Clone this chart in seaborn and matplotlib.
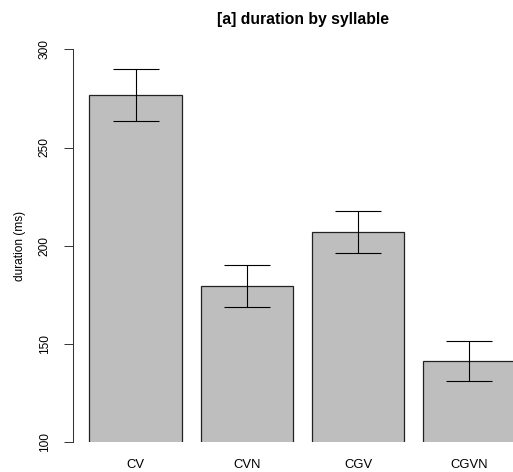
import matplotlib
matplotlib.use("Agg")
import matplotlib.pyplot as plt
import seaborn as sns
import pandas as pd

categories = ["CV", "CVN", "CGV", "CGVN"]
mean_duration = [276.7, 179.6, 207.0, 141.5]
se_duration = [13.1, 10.6, 10.55, 10.25]
y_ticks = [100, 150, 200, 250, 300]

sns.set_style("white")
plt.rcParams["font.family"] = ["Liberation Sans", "DejaVu Sans"]
plt.rcParams["text.color"] = "black"
plt.rcParams["axes.labelcolor"] = "black"
plt.rcParams["xtick.color"] = "black"
plt.rcParams["ytick.color"] = "black"

df = pd.DataFrame({"syllable": categories, "duration": mean_duration})

W, H, DPI = 513, 472, 100
fig = plt.figure(figsize=(W / DPI, H / DPI), dpi=DPI)
left_px, right_px, top_px, bottom_px = 72.7, 533.0, 49.3, 442.3
ax = fig.add_axes([left_px / W, 1 - bottom_px / H,
                   (right_px - left_px) / W, (bottom_px - top_px) / H])

sns.barplot(data=df, x="syllable", y="duration", color="#bebebe",
            saturation=1, edgecolor="#222222", linewidth=0.9,
            width=0.8333, errorbar=None, ax=ax)
ax.errorbar(range(len(categories)), mean_duration, yerr=se_duration,
            fmt="none", ecolor="black", elinewidth=0.8, capsize=16.8,
            capthick=0.8)

ax.set_ylim(100, 300)
span = (right_px - left_px) / 111.2
x0 = (left_px - 135.7) / 111.2
ax.set_xlim(x0, x0 + span)
ax.set_yticks(y_ticks)
ax.set_yticklabels([str(t) for t in y_ticks], rotation=90, va="center",
                   fontsize=8.6)
ax.tick_params(axis="y", length=6.5, width=0.7, pad=9.4, color="#333333",
               labelcolor="black", left=True, direction="out")
ax.tick_params(axis="x", length=0, pad=12, labelsize=9.4, labelcolor="black")
for s in ["top", "right", "bottom"]:
    ax.spines[s].set_visible(False)
ax.spines["left"].set_linewidth(0.75)
ax.spines["left"].set_color("#333333")
ax.set_xlabel("")
ax.set_ylabel("duration (ms)", fontsize=8.6, labelpad=9, color="black")
ax.set_title("[a] duration by syllable", fontweight="bold", fontsize=11.3,
             pad=18, color="black")
ax.patch.set_alpha(0)

fig.savefig("out.png", dpi=DPI)
